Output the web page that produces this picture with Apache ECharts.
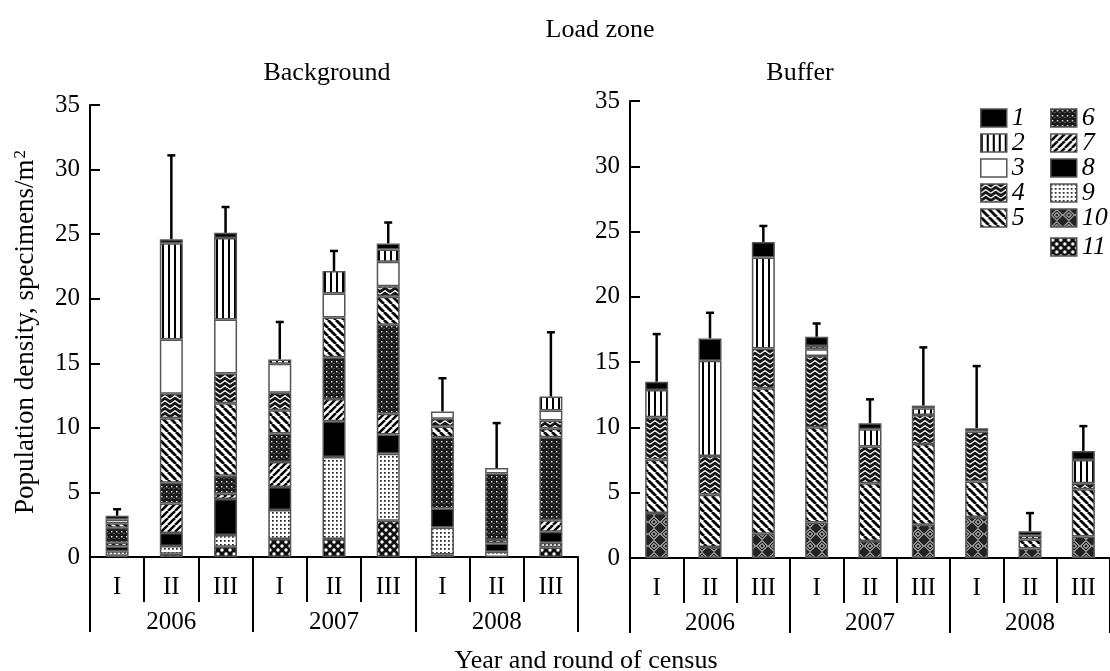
<!DOCTYPE html>
<html><head><meta charset="utf-8">
<script src="https://cdn.jsdelivr.net/npm/echarts@6/dist/echarts.min.js"></script>
<style>html,body{margin:0;padding:0;background:#fff}#c{width:1110px;height:671px}</style>
</head><body><div id="c"></div>
<script>
// ---- data ----
const rounds = ['I','II','III','I','II','III','I','II','III'];
const years = ['2006','2007','2008'];
const groupNames = ['1','2','3','4','5','6','7','8','9','10','11'];
const yTicks = {min:0, max:35, interval:5};

// Background (left panel), categories: 2006 I..III, 2007 I..III, 2008 I..III
const bg1  = [0.28, 0.3, 0.4, 0, 0, 0.46, 0, 0, 0];
const bg2  = [0, 7.45, 6.3, 0.34, 1.75, 0.96, 0, 0, 1.08];
const bg3  = [0.3, 4.2, 4.2, 2.24, 1.86, 1.9, 0.57, 0.43, 0.77];
const bg4  = [0, 1.9, 2.3, 1.36, 0, 0.8, 0.6, 0, 0.64];
const bg5  = [0.35, 5.0, 5.6, 1.8, 3.08, 2.18, 0.82, 0, 0.65];
const bg6  = [1.15, 1.6, 1.4, 2.2, 3.22, 6.89, 5.52, 5.15, 6.43];
const bg7  = [0.3, 2.3, 0.4, 1.93, 1.72, 1.6, 0, 0.26, 0.9];
const bg8  = [0.36, 1.0, 2.8, 1.8, 2.78, 1.49, 1.47, 0.65, 0.85];
const bg9  = [0.35, 0.6, 0.9, 2.24, 6.35, 5.2, 2.09, 0.4, 0.35];
const bg10 = [0, 0, 0, 0, 0, 0, 0, 0, 0];
const bg11 = [0.1, 0.25, 0.8, 1.39, 1.39, 2.8, 0.2, 0, 0.75];
const bgErr = [3.7, 31.1, 27.1, 18.2, 23.7, 25.9, 13.84, 10.37, 17.4];

// Buffer (right panel)
const buf1  = [0.63, 1.72, 1.2, 0.71, 0.46, 0.2, 0.26, 0.33, 0.69];
const buf2  = [2.09, 7.28, 6.96, 0.25, 1.33, 0.51, 0, 0.3, 1.78];
const buf3  = [0, 0, 0, 0.51, 0, 0, 0, 0, 0];
const buf4  = [3.26, 2.98, 3.05, 5.46, 2.8, 2.22, 3.82, 0, 0.46];
const buf5  = [4.08, 4.0, 11.14, 7.29, 4.43, 6.19, 2.72, 0.69, 3.62];
const buf6  = [0, 0, 0, 0, 0, 0, 0, 0, 0];
const buf7  = [0, 0, 0, 0, 0, 0, 0, 0, 0];
const buf8  = [0, 0, 0, 0, 0, 0, 0, 0, 0];
const buf9  = [0, 0, 0, 0, 0, 0, 0, 0, 0];
const buf10 = [3.44, 0.84, 1.86, 2.72, 1.3, 2.55, 3.14, 0.72, 1.65];
const buf11 = [0, 0, 0, 0, 0, 0, 0, 0, 0];
const bufErr = [17.15, 18.78, 25.43, 17.96, 12.15, 16.13, 14.7, 3.44, 10.1];

const bgGroups  = [bg1,bg2,bg3,bg4,bg5,bg6,bg7,bg8,bg9,bg10,bg11];
const bufGroups = [buf1,buf2,buf3,buf4,buf5,buf6,buf7,buf8,buf9,buf10,buf11];

// ---- patterns ----
function pat(w,h,fn){const c=document.createElement('canvas');c.width=w;c.height=h;const g=c.getContext('2d');fn(g,w,h);return {image:c,repeat:'repeat'};}
function diag(w,back,lw){return pat(w,w,(g)=>{g.fillStyle='#fff';g.fillRect(0,0,w,w);g.strokeStyle='#000';g.lineWidth=lw;g.beginPath();
  for(const k of [-w,0,w]){ if(back){g.moveTo(k,0);g.lineTo(k+w,w);} else {g.moveTo(k,w);g.lineTo(k+w,0);} }
  g.stroke();});}
const fills = [
  '#000',
  pat(6,6,(g)=>{g.fillStyle='#fff';g.fillRect(0,0,6,6);g.fillStyle='#000';g.fillRect(0,0,2,6);}),
  '#fff',
  pat(10,5,(g)=>{g.fillStyle='#151515';g.fillRect(0,0,10,5);g.strokeStyle='#fff';g.lineWidth=1.3;g.beginPath();g.moveTo(0,4.3);g.lineTo(5,0.7);g.lineTo(10,4.3);g.stroke();}),
  diag(8,true,2.8),
  pat(5,5,(g)=>{g.fillStyle='#1a1a1a';g.fillRect(0,0,5,5);g.fillStyle='#fff';g.fillRect(1,1,1.4,1.4);g.fillStyle='#999';g.fillRect(3.5,3,1,1);}),
  diag(7,false,2.5),
  '#000',
  pat(4,4,(g)=>{g.fillStyle='#fff';g.fillRect(0,0,4,4);g.fillStyle='#222';g.fillRect(0,0,1.7,1.7);}),
  pat(12,12,(g)=>{g.fillStyle='#222';g.fillRect(0,0,12,12);g.strokeStyle='#fff';g.lineWidth=1;
     for(const r of [2.5,5.5]){g.beginPath();g.moveTo(6,6-r);g.lineTo(6+r,6);g.lineTo(6,6+r);g.lineTo(6-r,6);g.closePath();g.stroke();}}),
  pat(8,8,(g)=>{g.fillStyle='#111';g.fillRect(0,0,8,8);g.fillStyle='#fff';
     for(const [x,y] of [[2,2],[6,6]]){g.beginPath();g.arc(x,y,1.7,0,Math.PI*2);g.fill();}})
];

const FONT = 'Liberation Serif';
const chart = echarts.init(document.getElementById('c'), null, {renderer:'canvas'});

function sums(groups){return rounds.map((_,i)=>groups.reduce((s,a)=>s+a[i],0));}
const bgTot = sums(bgGroups), bufTot = sums(bufGroups);

function xAxes(grid){
  return [
    {type:'category', gridIndex:grid, data:rounds, position:'bottom',
     axisLine:{show:true, lineStyle:{color:'#000', width:2}},
     axisTick:{show:true, interval:0, alignWithLabel:false, length:45, lineStyle:{color:'#000', width:2}},
     axisLabel:{show:true, interval:0, color:'#000', fontFamily:FONT, fontSize:25, margin:18}},
    {type:'category', gridIndex:grid, data:years, position:'bottom', offset:0,
     axisLine:{show:false},
     axisTick:{show:true, interval:0, alignWithLabel:false, length:75, lineStyle:{color:'#000', width:2}},
     axisLabel:{show:true, interval:0, color:'#000', fontFamily:FONT, fontSize:25, margin:53}}
  ];
}
function yAxis(grid){
  return {type:'value', gridIndex:grid, min:yTicks.min, max:yTicks.max, interval:yTicks.interval,
    splitLine:{show:false},
    axisLine:{show:true, lineStyle:{color:'#000', width:2}},
    axisTick:{show:true, inside:true, length:10, lineStyle:{color:'#000', width:2}},
    axisLabel:{color:'#000', fontFamily:FONT, fontSize:25, margin:10}};
}

const series = [];
function addPanel(groups, tot, err, xIdx, yIdx, stack){
  for(let k=groups.length-1;k>=0;k--){
    series.push({type:'bar', name:groupNames[k], stack:stack, xAxisIndex:xIdx, yAxisIndex:yIdx,
      barWidth:23, data:groups[k].map(v=>v===0?'-':v),
      itemStyle:{color:fills[k], borderColor:'#555', borderWidth:1.5}});
  }
  series.push({type:'custom', xAxisIndex:xIdx, yAxisIndex:yIdx, z:1,
    data:rounds.map((_,i)=>[i, tot[i], err[i]]),
    encode:{x:0, y:[1,2]},
    renderItem:(params, api)=>{
      const p0=api.coord([api.value(0), api.value(1)]), p1=api.coord([api.value(0), api.value(2)]);
      return {type:'group', children:[
        {type:'line', shape:{x1:p0[0],y1:p0[1],x2:p1[0],y2:p1[1]}, style:{stroke:'#000', lineWidth:2.5}},
        {type:'line', shape:{x1:p1[0]-4,y1:p1[1],x2:p1[0]+4,y2:p1[1]}, style:{stroke:'#000', lineWidth:2.5}}
      ]};
    }});
}
addPanel(bgGroups, bgTot, bgErr, 0, 0, 'bg');
addPanel(bufGroups, bufTot, bufErr, 2, 1, 'buf');

const legendCommon = {orient:'vertical', itemWidth:26, itemHeight:18, itemGap:-1, selectedMode:false, icon:'rect', padding:0,
  itemStyle:{borderColor:'#555', borderWidth:1.5},
  textStyle:{fontFamily:FONT, fontStyle:'italic', fontSize:26, color:'#000', padding:0}};

chart.setOption({
  animation:false,
  backgroundColor:'#fff',
  grid:[{left:90, top:105, width:488, height:452},
        {left:630, top:101, width:489, height:457}],
  xAxis:[...xAxes(0), ...xAxes(1)],
  yAxis:[yAxis(0), yAxis(1)],
  legend:[Object.assign({left:980, top:105, data:groupNames.slice(0,5)}, legendCommon),
          Object.assign({left:1050, top:105, data:groupNames.slice(5,10)}, legendCommon),
          Object.assign({left:1050, top:234, data:groupNames.slice(10)}, legendCommon)],
  series:series,
  graphic:[
    {type:'text', x:600, y:30, style:{text:'Load zone', fontFamily:FONT, fontSize:26, fill:'#000', align:'center', verticalAlign:'middle'}},
    {type:'text', x:327, y:73, style:{text:'Background', fontFamily:FONT, fontSize:26, fill:'#000', align:'center', verticalAlign:'middle'}},
    {type:'text', x:800, y:73, style:{text:'Buffer', fontFamily:FONT, fontSize:26, fill:'#000', align:'center', verticalAlign:'middle'}},
    {type:'text', x:586, y:661, style:{text:'Year and round of census', fontFamily:FONT, fontSize:26, fill:'#000', align:'center', verticalAlign:'middle'}},
    {type:'text', x:26, y:332, rotation:Math.PI/2, style:{text:'Population density, specimens/m{sup|2}', fontFamily:FONT, fontSize:27, fill:'#000', align:'center', verticalAlign:'middle',
      rich:{sup:{fontFamily:FONT, fontSize:17, fill:'#000', verticalAlign:'top', padding:[0,0,8,1]}}}}
  ]
});
</script></body></html>
